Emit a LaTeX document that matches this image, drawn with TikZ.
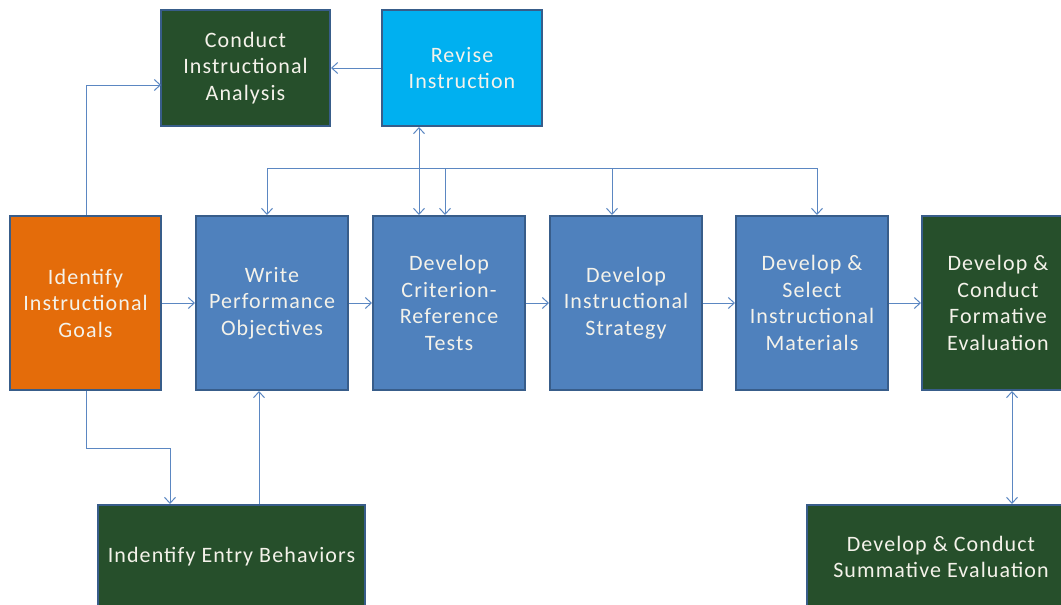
\documentclass[tikz,border=0pt]{standalone}
\usepackage{fontspec}
\setmainfont[LetterSpace=5]{Carlito}
\usetikzlibrary{arrows.meta,calc}
\definecolor{dgreen}{HTML}{264F2B}
\definecolor{mblue}{HTML}{4F81BD}
\definecolor{lblue}{HTML}{00B0F0}
\definecolor{orng}{HTML}{E46C0A}
\definecolor{edge}{HTML}{385D8A}
\definecolor{conn}{HTML}{5B87C2}
\definecolor{txt}{HTML}{F4F2EA}
\tikzset{
  box/.style={draw=edge,line width=2pt,text=txt,align=center,inner sep=0pt,
    font=\fontsize{22}{26.5}\selectfont},
  gbox/.style={box,fill=dgreen},
  bbox/.style={box,fill=mblue},
  arr/.style={draw=conn,line width=1pt,-{Straight Barb[length=6pt,width=11pt]}},
  darr/.style={draw=conn,line width=1pt,{Straight Barb[length=6pt,width=11pt]}-{Straight Barb[length=6pt,width=11pt]}},
  ln/.style={draw=conn,line width=1pt}
}
\begin{document}
\begin{tikzpicture}[x=1pt,y=-1pt]
\useasboundingbox (0,0) rectangle (1061,605);
\clip (0,0) rectangle (1061,605);
\node[gbox,minimum width=169pt,minimum height=116pt] (ana) at (245.5,68) {Conduct\\Instructional\\Analysis};
\node[box,fill=lblue,minimum width=160pt,minimum height=116pt] (rev) at (462,68) {Revise\\Instruction};
\node[box,fill=orng,minimum width=151pt,minimum height=174pt] (goal) at (85.5,303) {Identify\\Instructional\\Goals};
\node[bbox,minimum width=152pt,minimum height=174pt] (wpo) at (272,303) {Write\\Performance\\Objectives};
\node[bbox,minimum width=152pt,minimum height=174pt] (crt) at (449,303) {Develop\\Criterion-\\Reference\\Tests};
\node[bbox,minimum width=152pt,minimum height=174pt] (str) at (626,303) {Develop\\Instructional\\Strategy};
\node[bbox,minimum width=152pt,minimum height=174pt] (mat) at (812,303) {Develop \&\\Select\\Instructional\\Materials};
\node[gbox,minimum width=152pt,minimum height=174pt] (form) at (998,303) {Develop \&\\Conduct\\Formative\\Evaluation};
\node[gbox,minimum width=267pt,minimum height=104pt] (entry) at (231.5,557) {Indentify Entry Behaviors};
\node[gbox,minimum width=268pt,minimum height=104pt] (sum) at (941,557) {Develop \& Conduct\\Summative Evaluation};
% helper coordinates
\coordinate (anain) at (161,85);
\coordinate (bus) at (0,168);
\coordinate (revx) at (419,0);
\coordinate (g1) at (86,448);
\coordinate (g2) at (170,448);
\coordinate (ex) at (259,0);
\coordinate (fx) at (1012,0);
% connectors
\draw[arr] (goal.north -| g1) |- (anain);
\draw[arr] (rev.west) -- (ana.east);
\draw[darr] (rev.south -| revx) -- (crt.north -| revx);
\draw[ln] (bus -| 267,0) -- (bus -| 817,0);
\draw[arr] (bus -| 267,0) -- (wpo.north -| 267,0);
\draw[arr] (bus -| 445,0) -- (crt.north -| 445,0);
\draw[arr] (bus -| 612,0) -- (str.north -| 612,0);
\draw[arr] (bus -| 817,0) -- (mat.north -| 817,0);
\draw[arr] (goal.east) -- (wpo.west);
\draw[arr] (wpo.east) -- (crt.west);
\draw[arr] (crt.east) -- (str.west);
\draw[arr] (str.east) -- (mat.west);
\draw[arr] (mat.east) -- (form.west);
\draw[arr] (goal.south -| g1) -- (g1) -- (g2) -- (entry.north -| g2);
\draw[arr] (entry.north -| ex) -- (wpo.south -| ex);
\draw[darr] (form.south -| fx) -- (sum.north -| fx);
\end{tikzpicture}
\end{document}
